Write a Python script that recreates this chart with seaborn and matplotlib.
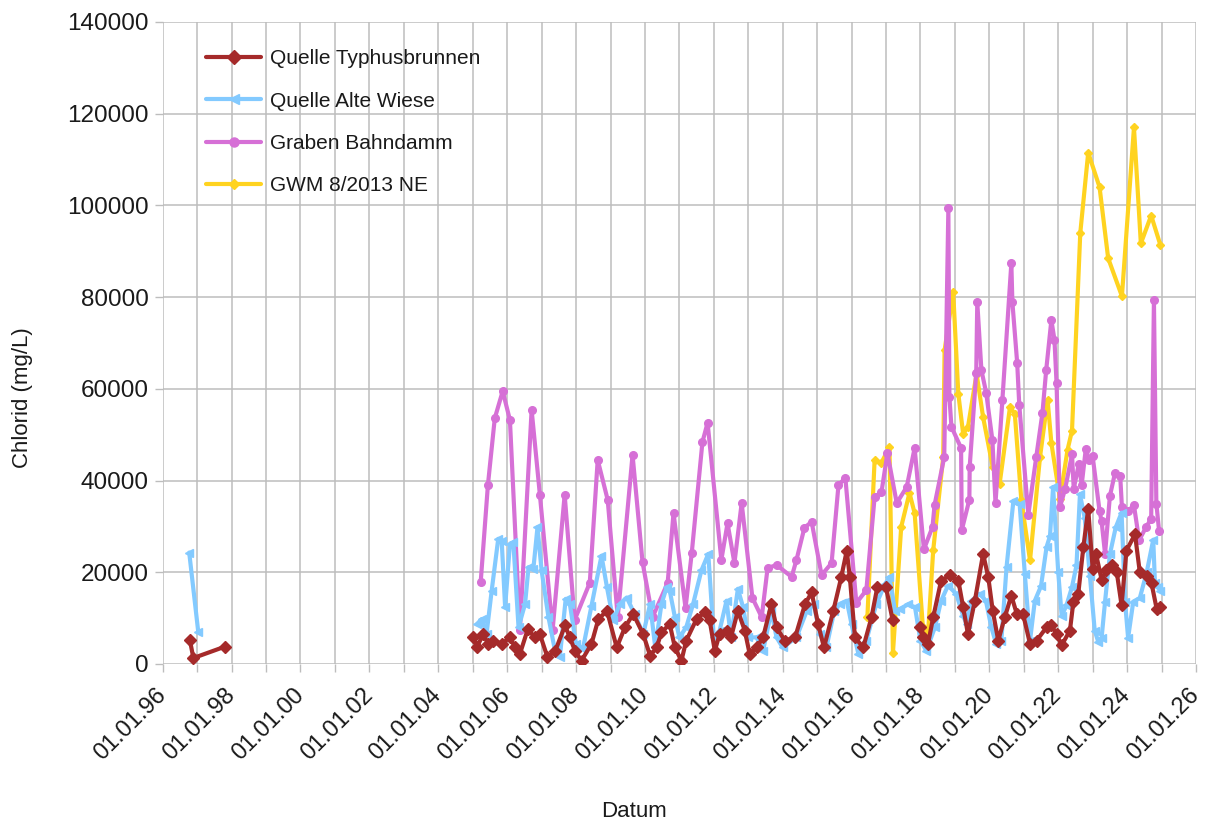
import numpy as np
import pandas as pd
import matplotlib
matplotlib.use("Agg")
import matplotlib.pyplot as plt
import matplotlib.dates as mdates
from matplotlib.ticker import MultipleLocator, StrMethodFormatter
from matplotlib.lines import Line2D
import seaborn as sns

# Sampling dates as decimal years; NaN in a value list marks a break in the record
typhus_years = [1996.79, 1996.89, 1997.81, 2001.00,
                2005.02, 2005.12, 2005.30, 2005.45, 2005.60, 2005.84, 2006.08, 2006.23,
                2006.37, 2006.60, 2006.80, 2006.95, 2007.17, 2007.40, 2007.68, 2007.82,
                2007.97, 2008.16, 2008.45, 2008.65, 2008.90, 2009.18, 2009.42, 2009.66,
                2009.95, 2010.15, 2010.34, 2010.48, 2010.72, 2010.87, 2011.06, 2011.20,
                2011.50, 2011.74, 2011.88, 2012.03, 2012.17, 2012.37, 2012.50, 2012.70,
                2012.90, 2013.04, 2013.24, 2013.43, 2013.67, 2013.82, 2014.06, 2014.36,
                2014.65, 2014.84, 2015.03, 2015.20, 2015.47, 2015.70, 2015.86, 2015.95,
                2016.10, 2016.34, 2016.58, 2016.75, 2017.00, 2017.19, 2017.60,
                2017.98, 2018.08, 2018.22, 2018.37, 2018.60, 2018.85, 2019.10, 2019.24,
                2019.38, 2019.58, 2019.82, 2019.97, 2020.10, 2020.26, 2020.45, 2020.64,
                2020.80, 2020.98, 2021.18, 2021.37, 2021.66, 2021.80, 2021.95, 2022.10,
                2022.34, 2022.44, 2022.58, 2022.73, 2022.87, 2023.00, 2023.10, 2023.26,
                2023.40, 2023.55, 2023.70, 2023.84, 2023.98, 2024.23, 2024.37, 2024.57,
                2024.71, 2024.86, 2024.95]
typhus_cl = [5200, 1300, 3800, np.nan,
             5800, 3600, 6500, 4400, 5100, 4400, 5800, 3600,
             2200, 7600, 5800, 6500, 1500, 2900, 8400, 5800,
             2900, 700, 4400, 9800, 11600, 3600, 8000, 10900,
             6500, 1800, 3600, 6900, 8700, 3600, 700, 5100,
             9800, 11300, 9500, 2900, 6500, 7300, 5800, 11600,
             7300, 2200, 3600, 5800, 13100, 8000, 5100, 5800,
             13100, 15600, 8700, 3600, 11600, 18900, 24700, 18900,
             5800, 3600, 10200, 16800, 16700, 9600, np.nan,
             8100, 5800, 4400, 10200, 18200, 19300, 18200, 12400,
             6500, 13800, 24000, 18900, 11600, 5100, 10200, 14900,
             10900, 10900, 4400, 5100, 8000, 8500, 6500, 4100,
             7300, 13600, 15200, 25500, 33800, 20800, 23900, 18400,
             20400, 21600, 20000, 12800, 24700, 28300, 20000, 19200,
             17600, 12000, 12400]

wiese_years = [1996.77, 1997.03, 2001.00,
               2005.12, 2005.26, 2005.40, 2005.55, 2005.74, 2005.84, 2005.94, 2006.08,
               2006.18, 2006.33, 2006.52, 2006.62, 2006.76, 2006.88, 2007.00, 2007.20,
               2007.40, 2007.53, 2007.70, 2007.82, 2008.00, 2008.20, 2008.45, 2008.74,
               2008.90, 2009.08, 2009.27, 2009.47, 2009.70, 2009.95, 2010.15, 2010.30,
               2010.48, 2010.63, 2010.72, 2010.87, 2011.00, 2011.20, 2011.40, 2011.64,
               2011.84, 2012.00, 2012.17, 2012.37, 2012.50, 2012.70, 2012.85, 2013.00,
               2013.24, 2013.43, 2013.67, 2013.82, 2014.00, 2014.40, 2014.70, 2014.90,
               2015.08, 2015.27, 2015.50, 2015.66, 2015.86, 2016.00, 2016.20, 2016.43,
               2016.72, 2016.97, 2017.10, 2017.26, 2017.40, 2017.64, 2017.84, 2018.00,
               2018.17, 2018.42, 2018.60, 2018.80, 2019.04, 2019.24, 2019.34, 2019.48,
               2019.72, 2019.90, 2020.06, 2020.20, 2020.35, 2020.50, 2020.70, 2020.88,
               2021.03, 2021.18, 2021.32, 2021.50, 2021.66, 2021.76, 2021.85, 2022.00,
               2022.10, 2022.24, 2022.40, 2022.53, 2022.63, 2022.77, 2022.92, 2023.06,
               2023.16, 2023.26, 2023.36, 2023.50, 2023.67, 2023.84, 2023.94, 2024.03,
               2024.18, 2024.37, 2024.57, 2024.76, 2024.81, 2024.90, 2024.97]
wiese_cl = [24300, 7000, np.nan,
            8700, 9800, 6500, 16000, 27300, 26900, 12400, 26200,
            26500, 8000, 13100, 21100, 20700, 29800, 20400, 10200,
            2500, 1500, 14200, 13100, 4400, 3300, 12700, 23600,
            16700, 9500, 13100, 14500, 10900, 6500, 13100, 3600,
            13100, 16700, 16000, 10200, 5800, 8000, 13100, 20400,
            24000, 5800, 7300, 13800, 5800, 16400, 12400, 5800,
            5800, 2900, 11600, 5800, 3600, 5800, 11600, 13100,
            6500, 3600, 11600, 13100, 13800, 8700, 2200, 5100,
            13100, 17400, 18900, 11600, 12000, 13000, 12400, 5100,
            2900, 8000, 13800, 17100, 15300, 10500, 8700, 13800,
            15300, 13800, 8000, 4400, 5100, 21100, 35600, 34900,
            19600, 5100, 13800, 17000, 25500, 27900, 38600, 20000,
            10500, 12800, 16800, 21500, 37000, 31800, 19200, 7300,
            4900, 5700, 13600, 23900, 29800, 33000, 13600, 5700,
            13600, 14400, 20000, 27100, 17600, 16800, 16000]

bahndamm_years = [2005.23, 2005.44, 2005.64, 2005.87, 2006.08, 2006.37, 2006.71, 2006.95,
                  2007.32, 2007.67, 2007.96, 2008.40, 2008.63, 2008.92, 2009.21, 2009.64,
                  2009.93, 2010.22, 2010.66, 2010.83, 2011.18, 2011.36, 2011.67, 2011.82,
                  2012.22, 2012.40, 2012.60, 2012.81, 2013.12, 2013.39, 2013.56, 2013.82,
                  2014.26, 2014.40, 2014.63, 2014.84, 2015.13, 2015.42, 2015.62, 2015.82,
                  2016.14, 2016.43, 2016.67, 2016.87, 2017.04, 2017.31, 2017.60, 2017.83,
                  2018.10, 2018.35, 2018.41, 2018.69, 2018.81, 2018.84, 2018.90, 2019.18,
                  2019.20, 2019.42, 2019.43, 2019.62, 2019.65, 2019.77, 2019.91, 2020.09,
                  2020.18, 2020.38, 2020.64, 2020.67, 2020.81, 2020.87, 2021.13, 2021.36,
                  2021.54, 2021.65, 2021.80, 2021.89, 2021.95, 2022.05, 2022.20, 2022.40,
                  2022.45, 2022.60, 2022.68, 2022.80, 2022.90, 2023.00, 2023.20, 2023.26,
                  2023.36, 2023.50, 2023.65, 2023.80, 2023.85, 2024.03, 2024.20, 2024.35,
                  2024.55, 2024.70, 2024.78, 2024.85, 2024.93]
bahndamm_cl = [17800, 39000, 53600, 59500, 53200, 7400, 55400, 36900,
               7400, 36900, 9600, 17700, 44500, 35800, 10200, 45600,
               22200, 10200, 17700, 32900, 12200, 24200, 48400, 52600,
               22700, 30700, 22000, 35100, 14400, 10200, 20900, 21600,
               19000, 22700, 29700, 31000, 19400, 22000, 39000, 40600,
               13300, 16100, 36400, 37500, 46000, 35100, 38600, 47100,
               25000, 29900, 34700, 45100, 99400, 58200, 51700, 47100,
               29200, 35800, 43000, 63500, 78900, 64100, 59100, 48800,
               35100, 57600, 87400, 78900, 65600, 56500, 32500, 45100,
               54700, 64100, 75000, 70700, 61300, 34200, 38200, 45700,
               38200, 43700, 39000, 46900, 44500, 45300, 33400, 31100,
               24000, 36600, 41700, 41000, 34200, 33400, 34600, 27000,
               29800, 31700, 79400, 35000, 29000]

gwm_years = [2016.46, 2016.67, 2016.86, 2017.10, 2017.20, 2017.44, 2017.68, 2017.83,
             2018.07, 2018.22, 2018.37, 2018.66, 2018.70, 2018.95, 2019.10, 2019.24,
             2019.38, 2019.63, 2019.82, 2020.10, 2020.30, 2020.60, 2020.74, 2020.93,
             2021.18, 2021.47, 2021.69, 2021.80, 2022.05, 2022.27, 2022.40, 2022.64,
             2022.87, 2023.20, 2023.45, 2023.85, 2024.20, 2024.40, 2024.70, 2024.97]
gwm_cl = [10200, 44500, 43800, 47300, 2400, 29900, 37300, 32900,
          8100, 6600, 24800, 45100, 68400, 81100, 58900, 50200,
          51700, 63300, 53800, 42900, 39300, 56000, 54600, 35700,
          22600, 45100, 57600, 48200, 36000, 46700, 50900, 94000,
          111500, 104000, 88500, 80200, 117000, 91700, 97800, 91300]

series_names = ["Quelle Typhusbrunnen", "Quelle Alte Wiese", "Graben Bahndamm", "GWM 8/2013 NE"]
series_colors = ["#a52a2a", "#83caff", "#d670d6", "#ffd320"]
series_markers = ["D", "<", "o", "D"]
series_msizes = [6, 5.5, 5.5, 4]


def decimal_year_to_date(years):
    years = np.asarray(years, dtype=float)
    whole = np.floor(years).astype(int)
    start = pd.to_datetime([f"{y}-01-01" for y in whole])
    return start + pd.to_timedelta((years - whole) * 365.25, unit="D")


def build_frame(years, values):
    df = pd.DataFrame({"date": decimal_year_to_date(years), "cl": np.asarray(values, dtype=float)})
    # a NaN entry starts a new, unconnected segment
    df["segment"] = df["cl"].isna().cumsum()
    return df.dropna().reset_index(drop=True)


frames = [build_frame(typhus_years, typhus_cl),
          build_frame(wiese_years, wiese_cl),
          build_frame(bahndamm_years, bahndamm_cl),
          build_frame(gwm_years, gwm_cl)]

sns.set_theme(style="white")
plt.rcParams["font.family"] = ["Liberation Sans", "DejaVu Sans"]
text_color = "#1a1a1a"
grid_color = "#bdbdbd"

fig = plt.figure(figsize=(12.09, 8.25), dpi=100)
ax = fig.add_axes([162.7 / 1209, 1 - 664 / 825, (1196 - 162.7) / 1209, (664 - 22) / 825])

# draw last series first so the spring records sit on top
for i in reversed(range(len(frames))):
    c = series_colors[i]
    sns.lineplot(data=frames[i], x="date", y="cl", units="segment", estimator=None,
                 sort=False, color=c, lw=3, marker=series_markers[i],
                 markersize=series_msizes[i], markeredgecolor=c, markeredgewidth=1,
                 legend=False, ax=ax, zorder=3 + (len(frames) - i))

ax.set_xlim(pd.Timestamp("1996-01-01"), pd.Timestamp("2026-01-01"))
ax.set_ylim(0, 140000)

ax.xaxis.set_major_locator(mdates.YearLocator(2))
ax.xaxis.set_minor_locator(mdates.YearLocator(1))
ax.xaxis.set_major_formatter(mdates.DateFormatter("%d.%m.%y"))
ax.yaxis.set_major_locator(MultipleLocator(20000))
ax.yaxis.set_major_formatter(StrMethodFormatter("{x:.0f}"))

ax.grid(True, which="both", axis="x", color=grid_color, lw=1.1)
ax.grid(True, which="major", axis="y", color=grid_color, lw=1.1)
ax.set_axisbelow(True)
for side in ["top", "right", "left", "bottom"]:
    ax.spines[side].set_visible(False)

ax.tick_params(axis="both", which="both", direction="out", color=grid_color,
               length=6, width=1, labelcolor=text_color)
ax.tick_params(axis="x", which="both", bottom=True, pad=14, labelsize=17)
ax.tick_params(axis="y", left=True, pad=4, labelsize=17.5)
for lab in ax.get_xticklabels():
    lab.set_rotation(45)
    lab.set_ha("right")
    lab.set_va("center")
    lab.set_rotation_mode("anchor")

ax.set_xlabel("Datum", fontsize=16, color=text_color)
ax.set_ylabel("Chlorid (mg/L)", fontsize=16, color=text_color)
ax.xaxis.set_label_coords((634 - 162.7) / 1033.3, (664 - 801) / 642)
ax.yaxis.set_label_coords((33 - 162.7) / 1033.3, (664 - 398) / 642)

handles = [Line2D([], [], color=series_colors[i], lw=3, marker=series_markers[i],
                  markersize=series_msizes[i] + 1, markeredgecolor=series_colors[i])
           for i in range(len(series_names))]
leg = ax.legend(handles, series_names, loc="upper left", bbox_to_anchor=(0.022, 0.99),
                borderaxespad=0, borderpad=1.0, fontsize=15, labelspacing=1.12,
                handlelength=2.65, handletextpad=0.4, frameon=False, numpoints=1)
for t in leg.get_texts():
    t.set_color(text_color)

fig.savefig("out.png", dpi=100, facecolor="white")
